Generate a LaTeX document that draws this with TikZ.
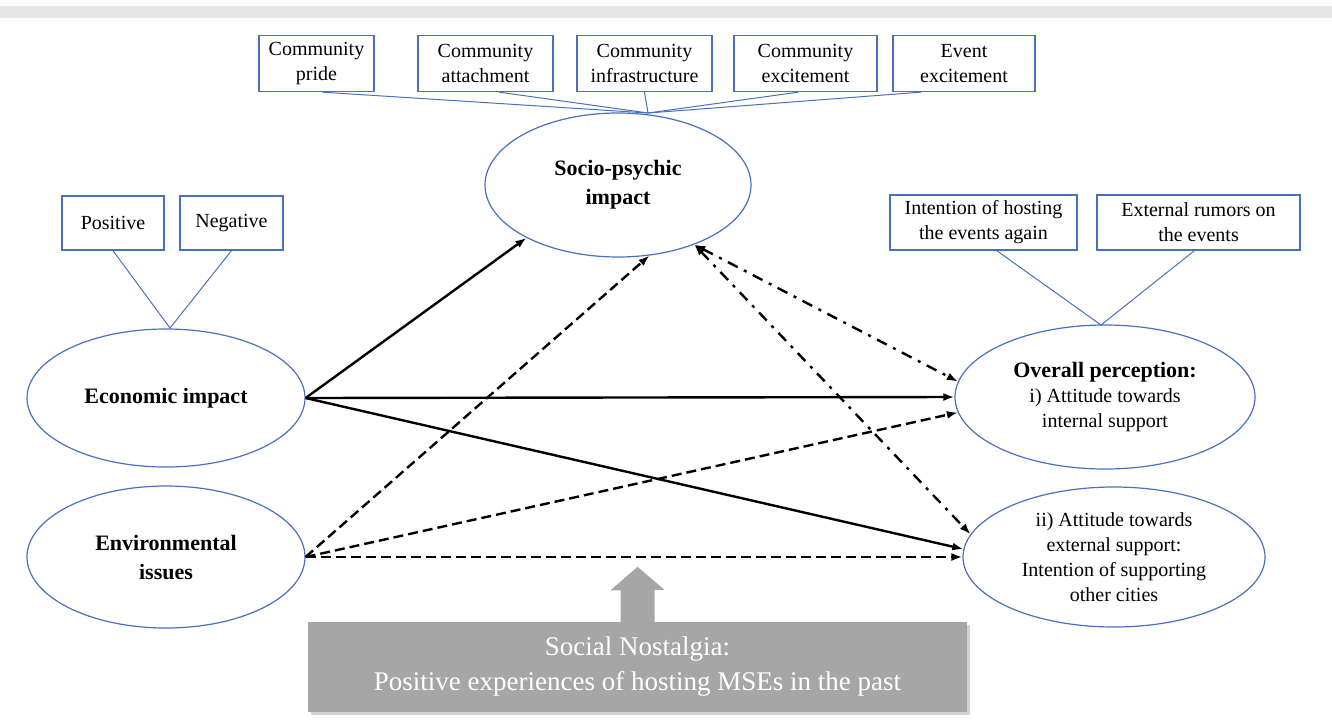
\documentclass[tikz,border=0pt]{standalone}
\usepackage{fontspec}
\setmainfont{Liberation Serif}[BoldFont={Liberation Serif Bold}]
\newfontfamily\termsfont{Liberation Serif}[BoldFont={Liberation Serif Bold}]
\usetikzlibrary{shapes.geometric,arrows.meta,calc,shadows}
\definecolor{edgeblue}{HTML}{4A6FBF}
\definecolor{nostalgia}{HTML}{A6A6A6}
\definecolor{topband}{HTML}{E6E6E6}
\begin{document}
\begin{tikzpicture}[x=1pt,y=-1pt,
  txt/.style={font=\termsfont\fontsize{20}{25}\selectfont, align=center},
  factor/.style={txt, draw=edgeblue, line width=1.3pt, inner sep=0pt, minimum height=56pt},
  construct/.style={draw=edgeblue, line width=1.2pt, ellipse, inner sep=0pt, align=center,
                    font=\termsfont\fontsize{20}{25}\selectfont},
  boldtxt/.style={font=\termsfont\bfseries\fontsize{22}{29}\selectfont},
  link/.style={draw=edgeblue, line width=1pt},
  effect/.style={line width=2.4pt, -{Latex[length=11pt,width=8pt]}},
  effectdash/.style={effect, dash pattern=on 10pt off 5pt},
  feedback/.style={line width=2.4pt, {Latex[length=11pt,width=8pt]}-{Latex[length=11pt,width=8pt]},
                   dash pattern=on 11pt off 7pt on 3pt off 7pt},
]
\useasboundingbox (0,0) rectangle (1332,726);
\fill[topband] (0,6) rectangle (1332,18);

% socio-psychic factors
\node[factor, minimum width=115pt] (b1) at (316.5,63.5) {Community\\pride};
\node[factor, minimum width=135pt] (b2) at (485.5,63.5) {Community\\attachment};
\node[factor, minimum width=135pt] (b3) at (644.5,63.5) {Community\\infrastructure};
\node[factor, minimum width=143pt] (b4) at (805.5,63.5) {Community\\excitement};
\node[factor, minimum width=142pt] (b5) at (964,63.5) {Event\\excitement};

% economic factors
\node[factor, minimum width=102pt, minimum height=54pt] (pos) at (113,223) {Positive};
\node[factor, minimum width=103pt, minimum height=54pt] (neg) at (231.5,223) {Negative};

% perception factors
\node[factor, minimum width=187pt, minimum height=55pt] (host) at (983.5,222.5) {Intention of hosting\\the events again};
\node[factor, minimum width=203pt, minimum height=55pt] (rum) at (1198.5,222.5) {External rumors on\\the events};

% constructs
\node[construct, boldtxt, minimum width=266pt, minimum height=144pt] (socio) at (618,185) {Socio-psychic\\impact};
\node[construct, boldtxt, minimum width=278pt, minimum height=138pt] (econ) at (166,398) {Economic impact};
\node[construct, boldtxt, minimum width=278pt, minimum height=142pt] (env) at (166,557) {Environmental\\issues};
\node[construct, minimum width=300pt, minimum height=144pt] (overall) at (1105,397)
  {{\bfseries\fontsize{22}{26}\selectfont Overall perception:}\\i) Attitude towards\\internal support};
\node[construct, minimum width=302pt, minimum height=140pt] (att) at (1114,557)
  {ii) Attitude towards\\external support:\\Intention of supporting\\other cities};

% hubs where factor links meet
\coordinate (shub) at (648,113);
\coordinate (ehub) at (170,328);
\coordinate (ohub) at (1101,325);

\draw[link] ($(b1.south west)!0.55!(b1.south east)$) -- (shub);
\draw[link] ($(b2.south west)!0.6!(b2.south east)$) -- (shub);
\draw[link] (b3.south) -- (shub);
\draw[link] ($(b4.south west)!0.45!(b4.south east)$) -- (shub);
\draw[link] ($(b5.south west)!0.2!(b5.south east)$) -- (shub);
\draw[link] (pos.south) -- (ehub);
\draw[link] (neg.south) -- (ehub);
\draw[link] ($(host.south west)!0.57!(host.south east)$) -- (ohub);
\draw[link] ($(rum.south west)!0.48!(rum.south east)$) -- (ohub);

% direct effects
\draw[effect] (econ.east) -- (socio.210);
\draw[effect] (econ.east) -- (overall.west);
\draw[effect] (econ.east) -- (att.177);
\draw[effectdash] (env.east) -- (socio.294);
\draw[effectdash] (env.east) -- (overall.186);
\draw[effectdash] (env.east) -- (att.west);

% feedback between socio-psychic impact and perceptions
\draw[feedback] (socio.322) -- (overall.174);
\draw[feedback] (socio.322) -- (att.171);

% social nostalgia moderator
\node[fill=nostalgia, minimum width=659pt, minimum height=90pt, inner sep=0pt,
      text=white, align=center, font=\termsfont\fontsize{27}{35}\selectfont,
      drop shadow={shadow xshift=3pt, shadow yshift=-3pt, opacity=0.35}] (nost) at (637.5,667)
  {Social Nostalgia:\\Positive experiences of hosting MSEs in the past};
\fill[nostalgia] ($(nost.north)+(-17,0.5)$) -- ++(0,-32) -- ++(-10,0) -- ($(nost.north)+(0,-55)$)
  -- ($(nost.north)+(27,-32)$) -- ++(-10,0) -- ($(nost.north)+(17,0.5)$) -- cycle;
\end{tikzpicture}
\end{document}
